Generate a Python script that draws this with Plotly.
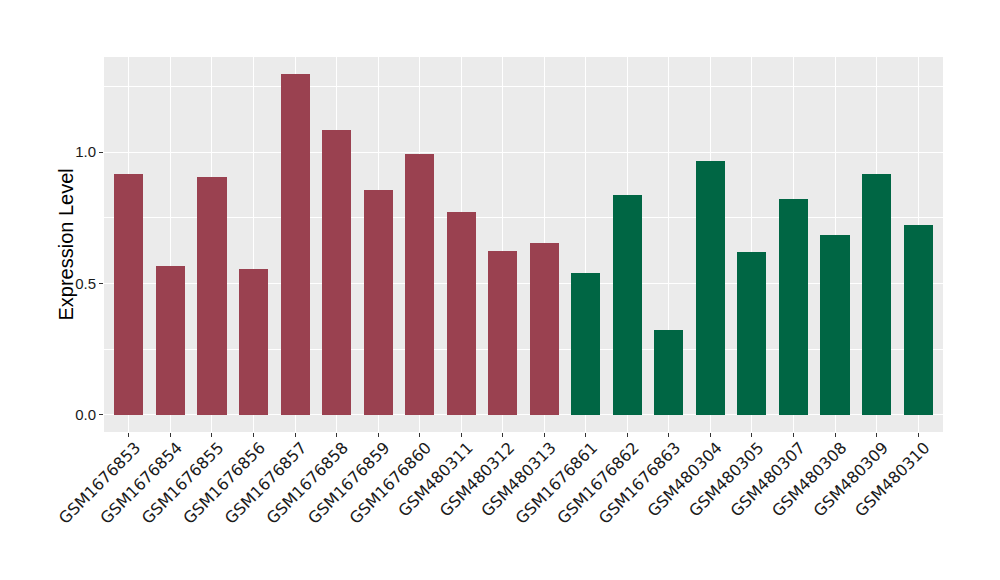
import plotly.graph_objects as go

samples = ["GSM1676853", "GSM1676854", "GSM1676855", "GSM1676856", "GSM1676857",
           "GSM1676858", "GSM1676859", "GSM1676860", "GSM480311", "GSM480312",
           "GSM480313", "GSM1676861", "GSM1676862", "GSM1676863", "GSM480304",
           "GSM480305", "GSM480307", "GSM480308", "GSM480309", "GSM480310"]
values = [0.918, 0.565, 0.906, 0.557, 1.297,
          1.085, 0.857, 0.993, 0.774, 0.622,
          0.653, 0.539, 0.835, 0.323, 0.967,
          0.619, 0.820, 0.683, 0.915, 0.721]
groups = ["A"] * 11 + ["B"] * 9
group_colors = {"A": "#9A4150", "B": "#006644"}
y_ticks = [0.0, 0.5, 1.0]
y_tick_labels = ["0.0", "0.5", "1.0"]
y_title = "Expression Level"

colors = [group_colors[g] for g in groups]

fig = go.Figure(go.Bar(
    x=samples, y=values, marker=dict(color=colors, line=dict(width=0)),
    width=0.7, showlegend=False,
))

ymax = max(values)
pad = ymax * 0.05

fig.update_layout(
    width=1000, height=580,
    margin=dict(l=96, r=65, t=49, b=156, autoexpand=False),
    paper_bgcolor="white", plot_bgcolor="#EBEBEB",
    font=dict(family="DejaVu Sans", color="#1a1a1a"),
    bargap=0,
)
fig.add_annotation(
    text=y_title, xref="paper", yref="paper", x=0, y=0.5,
    xanchor="center", yanchor="middle", xshift=-39, textangle=-90,
    showarrow=False, font=dict(size=20, family="Liberation Sans", color="black"),
)
fig.update_xaxes(
    type="category", range=[-0.6, len(samples) - 0.4],
    showgrid=True, gridcolor="white", gridwidth=1.1,
    ticks="outside", ticklen=4, tickcolor="#333333", tickwidth=1,
    tickangle=-45, tickfont=dict(size=16, family="DejaVu Sans", color="#1a1a1a"),
    ticklabelshift=7, ticklabelstandoff=-5,
    showline=False, zeroline=False, automargin=False,
)
fig.update_yaxes(
    range=[-pad, ymax + pad],
    tickvals=y_ticks, ticktext=y_tick_labels,
    showgrid=True, gridcolor="white", gridwidth=1.1,
    minor=dict(dtick=0.25, tick0=0, showgrid=True, gridcolor="white", gridwidth=0.5),
    ticks="outside", ticklen=4, tickcolor="#333333", tickwidth=1,
    tickfont=dict(size=15, family="Liberation Sans", color="#1a1a1a"),
    zeroline=False, showline=False, automargin=False,
)

fig.write_html("out.html")
